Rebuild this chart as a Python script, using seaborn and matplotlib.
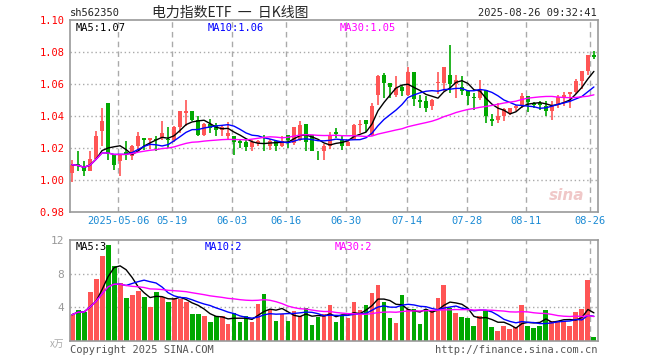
import numpy as np
import pandas as pd
import matplotlib
matplotlib.use("Agg")
import matplotlib.pyplot as plt
import seaborn as sns

# daily candles (index 0 = 2025-04-21)
opens = [1.0044, 1.0100, 1.0085, 1.0058, 1.0133, 1.0304, 1.0483, 1.0165, 1.0117, 1.0175,
         1.0152, 1.0210, 1.0262, 1.0252, 1.0258, 1.0262, 1.0256, 1.0250, 1.0329, 1.0419,
         1.0429, 1.0377, 1.0283, 1.0350, 1.0346, 1.0315, 1.0277, 1.0277, 1.0246, 1.0235,
         1.0204, 1.0229, 1.0231, 1.0215, 1.0246, 1.0215, 1.0283, 1.0231, 1.0252, 1.0352,
         1.0283, 1.0183, 1.0179, 1.0215, 1.0300, 1.0252, 1.0215, 1.0252, 1.0346, 1.0377,
         1.0283, 1.0533, 1.0658, 1.0606, 1.0529, 1.0579, 1.0533, 1.0675, 1.0502, 1.0496,
         1.0465, 1.0604, 1.0606, 1.0658, 1.0600, 1.0581, 1.0554, 1.0517, 1.0512, 1.0565,
         1.0383, 1.0377, 1.0402, 1.0419, 1.0450, 1.0465, 1.0527, 1.0481, 1.0481, 1.0465,
         1.0433, 1.0477, 1.0512, 1.0537, 1.0550, 1.0617, 1.0679, 1.0783]
highs = [1.0127, 1.0183, 1.0117, 1.0183, 1.0304, 1.0450, 1.0483, 1.0165, 1.0165, 1.0246,
         1.0220, 1.0300, 1.0262, 1.0262, 1.0277, 1.0367, 1.0329, 1.0335, 1.0429, 1.0500,
         1.0429, 1.0398, 1.0356, 1.0383, 1.0356, 1.0346, 1.0363, 1.0277, 1.0252, 1.0252,
         1.0252, 1.0252, 1.0283, 1.0256, 1.0252, 1.0277, 1.0283, 1.0329, 1.0367, 1.0352,
         1.0283, 1.0183, 1.0227, 1.0298, 1.0327, 1.0283, 1.0252, 1.0352, 1.0377, 1.0377,
         1.0481, 1.0658, 1.0669, 1.0606, 1.0648, 1.0596, 1.0706, 1.0675, 1.0533, 1.0523,
         1.0506, 1.0675, 1.0706, 1.0846, 1.0658, 1.0648, 1.0565, 1.0544, 1.0627, 1.0565,
         1.0415, 1.0481, 1.0450, 1.0450, 1.0471, 1.0544, 1.0527, 1.0485, 1.0492, 1.0492,
         1.0492, 1.0533, 1.0548, 1.0548, 1.0631, 1.0679, 1.0783, 1.0808]
lows = [0.9990, 1.0058, 1.0023, 1.0054, 1.0127, 1.0210, 1.0127, 1.0065, 1.0023, 1.0127,
        1.0127, 1.0190, 1.0190, 1.0196, 1.0179, 1.0252, 1.0200, 1.0240, 1.0294, 1.0335,
        1.0367, 1.0273, 1.0273, 1.0294, 1.0273, 1.0273, 1.0252, 1.0158, 1.0200, 1.0180,
        1.0181, 1.0210, 1.0180, 1.0185, 1.0180, 1.0208, 1.0200, 1.0221, 1.0242, 1.0179,
        1.0183, 1.0123, 1.0127, 1.0194, 1.0263, 1.0190, 1.0210, 1.0252, 1.0294, 1.0298,
        1.0273, 1.0471, 1.0512, 1.0512, 1.0519, 1.0523, 1.0523, 1.0460, 1.0450, 1.0423,
        1.0440, 1.0538, 1.0554, 1.0544, 1.0512, 1.0533, 1.0471, 1.0440, 1.0502, 1.0356,
        1.0340, 1.0356, 1.0371, 1.0408, 1.0429, 1.0450, 1.0423, 1.0450, 1.0440, 1.0398,
        1.0377, 1.0450, 1.0460, 1.0450, 1.0538, 1.0570, 1.0658, 1.0758]
closes = [1.0096, 1.0085, 1.0058, 1.0133, 1.0277, 1.0367, 1.0165, 1.0096, 1.0165, 1.0158,
          1.0210, 1.0277, 1.0252, 1.0262, 1.0248, 1.0294, 1.0250, 1.0329, 1.0429, 1.0429,
          1.0377, 1.0283, 1.0350, 1.0325, 1.0315, 1.0329, 1.0294, 1.0235, 1.0229, 1.0204,
          1.0235, 1.0246, 1.0225, 1.0246, 1.0215, 1.0246, 1.0252, 1.0329, 1.0346, 1.0235,
          1.0183, 1.0179, 1.0215, 1.0283, 1.0285, 1.0210, 1.0235, 1.0346, 1.0352, 1.0352,
          1.0465, 1.0648, 1.0606, 1.0579, 1.0575, 1.0558, 1.0675, 1.0506, 1.0485, 1.0450,
          1.0502, 1.0615, 1.0706, 1.0602, 1.0627, 1.0554, 1.0527, 1.0510, 1.0565, 1.0398,
          1.0371, 1.0402, 1.0444, 1.0450, 1.0465, 1.0527, 1.0485, 1.0471, 1.0469, 1.0429,
          1.0471, 1.0519, 1.0533, 1.0548, 1.0617, 1.0679, 1.0783, 1.0767]
# volume, in 万
volumes = [3.1, 3.7, 3.45, 5.85, 7.4, 10.05, 11.4, 8.85, 6.9, 5.1,
           5.45, 5.9, 5.25, 4.0, 5.85, 5.25, 4.65, 5.1, 5.0, 4.6,
           3.2, 3.2, 2.9, 2.2, 3.0, 2.9, 2.0, 3.3, 2.2, 3.0,
           2.2, 4.4, 5.6, 3.6, 2.4, 3.2, 2.4, 3.5, 2.9, 3.9,
           1.9, 2.8, 3.2, 4.2, 2.2, 3.0, 2.7, 4.6, 3.6, 4.3,
           5.7, 6.6, 4.6, 2.7, 2.1, 5.4, 3.8, 3.8, 2.0, 3.8,
           3.6, 5.1, 6.6, 3.9, 3.3, 2.8, 2.7, 1.8, 2.9, 3.6,
           1.6, 1.1, 1.8, 1.4, 1.6, 4.3, 1.8, 1.5, 1.7, 3.7,
           2.3, 2.4, 2.4, 1.8, 3.4, 3.8, 7.2, 0.4]

tick_labels = ["2025-05-06", "05-19", "06-03", "06-16", "06-30", "07-14", "07-28", "08-11", "08-26"]
tick_pos = [7.72, 16.72, 26.72, 35.72, 45.67, 55.78, 65.78, 75.72, 86.28]

RED = "#ff5555"
GREEN = "#00a800"
GRID = "#aaaaaa"
MONO = "DejaVu Sans Mono"

df = pd.DataFrame({"open": opens, "high": highs, "low": lows, "close": closes, "vol": volumes})
df["i"] = np.arange(len(df))
df["up"] = df["close"] >= df["open"]
for n in (5, 10, 30):
    df[f"ma{n}"] = df["close"].rolling(n, min_periods=1).mean()
    df[f"vma{n}"] = df["vol"].rolling(n, min_periods=1).mean()

sns.set_style("white")
plt.rcParams["font.family"] = [MONO, "Noto Sans CJK SC"]

fig = plt.figure(figsize=(6.6, 3.6), dpi=100)
W, H = 660.0, 360.0
ax = fig.add_axes([70 / W, 1 - 212 / H, 527.5 / W, 192 / H])
axv = fig.add_axes([70 / W, 1 - 340.7 / H, 527.5 / W, 100.7 / H])


def frame(a):
    for s in a.spines.values():
        s.set_color("#999999")
        s.set_linewidth(1.2)
    a.set_xlim(-0.35, 87.6)
    for p in tick_pos:
        a.axvline(p, color=GRID, lw=1, ls=(0, (4, 3)), zorder=0)


cols = np.where(df["up"], RED, GREEN)

# price panel
frame(ax)
ax.set_ylim(0.98, 1.10)
for y in [1.00, 1.02, 1.04, 1.06, 1.08]:
    ax.axhline(y, color=GRID, lw=1, ls=(0, (1, 2)), zorder=0)
ax.vlines(df["i"], df["low"], df["high"], colors=cols, lw=1.2, zorder=2)
body_lo = np.minimum(df["open"], df["close"])
body_h = np.maximum((df["close"] - df["open"]).abs(), 0.0004)
ax.bar(df["i"], body_h, bottom=body_lo, width=0.78, color=cols, zorder=3, linewidth=0)
sns.lineplot(data=df, x="i", y="ma5", ax=ax, color="black", lw=1, zorder=4)
sns.lineplot(data=df, x="i", y="ma10", ax=ax, color="#0000ff", lw=1, zorder=4)
sns.lineplot(data=df, x="i", y="ma30", ax=ax, color="#ff00ff", lw=1, zorder=4)
ax.set_yticks([0.98, 1.00, 1.02, 1.04, 1.06, 1.08, 1.10])
ax.set_yticklabels([f"{v:.2f}" for v in [0.98, 1.00, 1.02, 1.04, 1.06, 1.08, 1.10]])
ax.tick_params(axis="y", colors="red", labelsize=7.5, length=0, pad=4)
ax.set_xticks(tick_pos)
ax.set_xticklabels(tick_labels)
ax.tick_params(axis="x", colors="#1a8ad4", labelsize=7.5, length=0, pad=3)
ax.set_xlabel("")
ax.set_ylabel("")
ax.text(0.01, 0.985, "MA5:1.07", transform=ax.transAxes, fontsize=7.5, va="top", color="black")
ax.text(0.26, 0.985, "MA10:1.06", transform=ax.transAxes, fontsize=7.5, va="top", color="#0000ff")
ax.text(0.512, 0.985, "MA30:1.05", transform=ax.transAxes, fontsize=7.5, va="top", color="#ff00ff")
ax.text(0.975, 0.06, "sina", transform=ax.transAxes, fontsize=11, ha="right", color="#f0c8c8",
        fontweight="bold", style="italic", family="DejaVu Sans")

# volume panel
frame(axv)
axv.set_ylim(0, 12)
for y in [4, 8]:
    axv.axhline(y, color=GRID, lw=1, ls=(0, (1, 2)), zorder=0)
axv.bar(df["i"], df["vol"], width=0.82, color=cols, linewidth=0, zorder=2)
sns.lineplot(data=df, x="i", y="vma5", ax=axv, color="black", lw=1, zorder=4)
sns.lineplot(data=df, x="i", y="vma10", ax=axv, color="#0000ff", lw=1, zorder=4)
sns.lineplot(data=df, x="i", y="vma30", ax=axv, color="#ff00ff", lw=1, zorder=4)
axv.set_xlim(-0.35, 87.6)
axv.set_xticks(tick_pos)
axv.set_xticklabels([])
axv.tick_params(axis="x", length=0)
axv.set_yticks([4, 8, 12])
axv.tick_params(axis="y", colors="#999999", labelsize=8, length=0, pad=4)
axv.set_xlabel("")
axv.set_ylabel("")
axv.text(0.01, 0.985, "MA5:3", transform=axv.transAxes, fontsize=7.5, va="top", color="black")
axv.text(0.256, 0.985, "MA10:2", transform=axv.transAxes, fontsize=7.5, va="top", color="#0000ff")
axv.text(0.502, 0.985, "MA30:2", transform=axv.transAxes, fontsize=7.5, va="top", color="#ff00ff")

# header and footer
fig.text(70 / W, 1 - 13 / H, "sh562350", fontsize=7.5, va="center", color="#222222")
fig.text(152 / W, 1 - 13 / H, "电力指数ETF  一  日K线图", fontsize=10, va="center",
         family=["Noto Sans CJK SC", MONO])
fig.text(597 / W, 1 - 13 / H, "2025-08-26 09:32:41", fontsize=7.5, va="center", ha="right")
fig.text(64 / W, 1 - 344 / H, "x万", fontsize=7, va="center", ha="right", color="#aaaaaa",
         style="italic", family=["Noto Sans CJK SC"])
fig.text(70 / W, 1 - 350 / H, "Copyright 2025 SINA.COM", fontsize=7.5, va="center", color="#555555")
fig.text(597 / W, 1 - 350 / H, "http://finance.sina.com.cn", fontsize=7.5, va="center",
         ha="right", color="#555555")

fig.savefig("out.png", dpi=100)
